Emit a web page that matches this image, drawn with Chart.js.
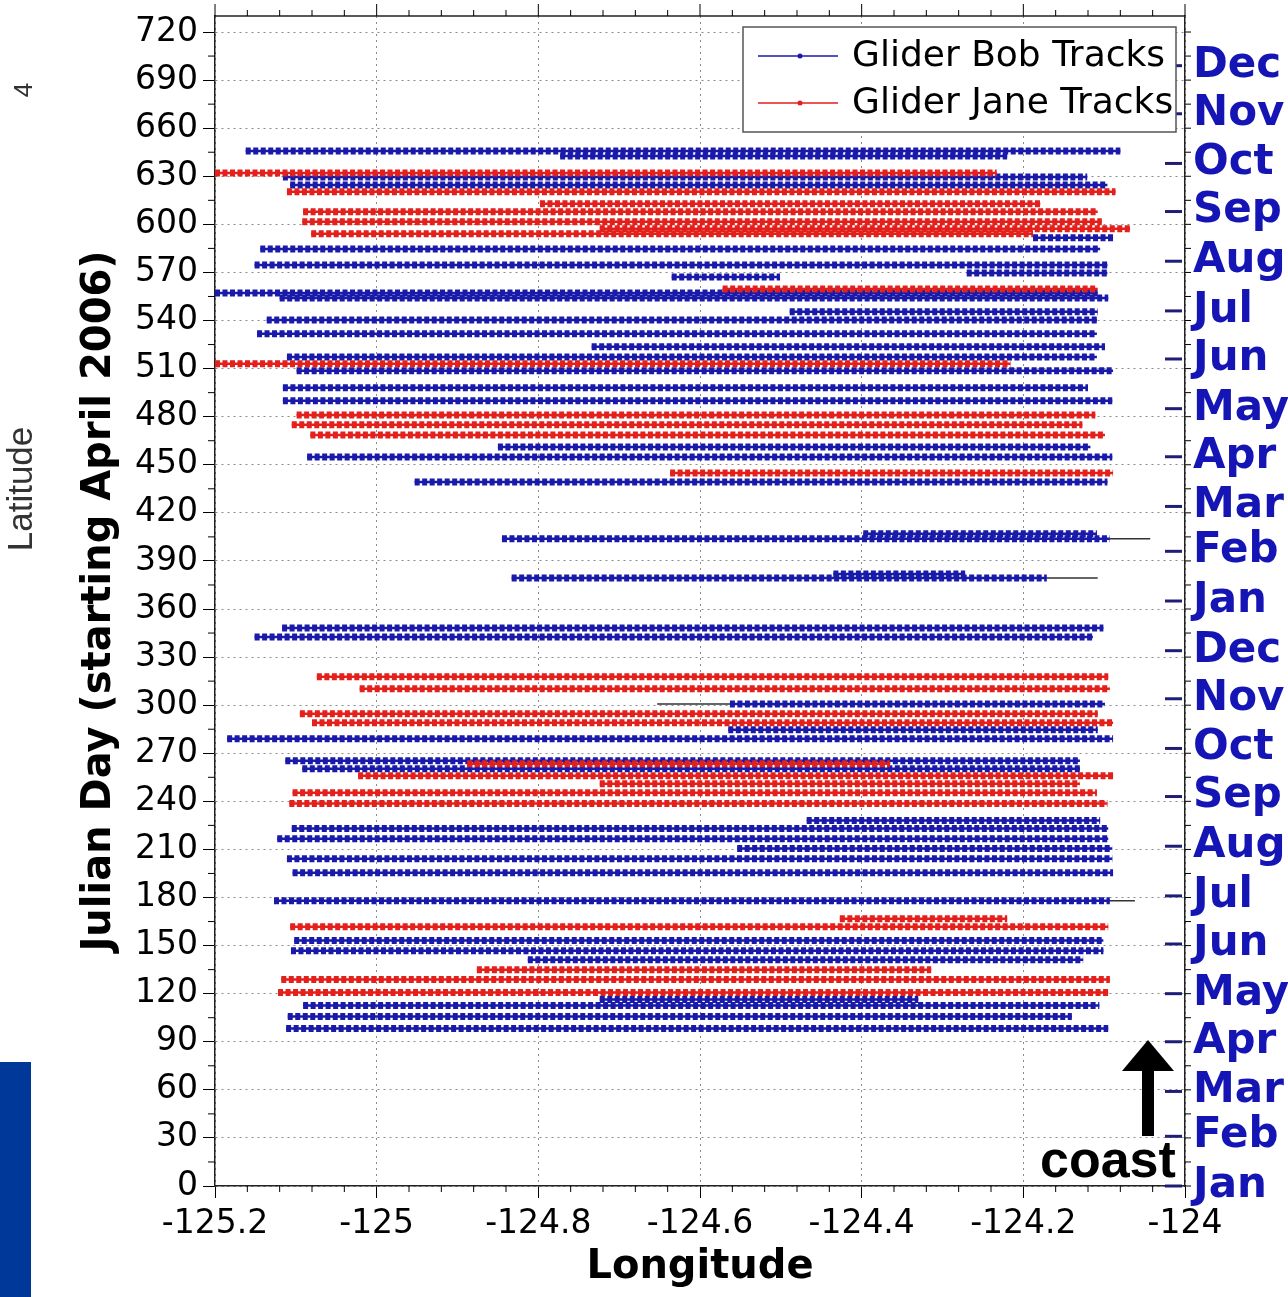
<!DOCTYPE html>
<html><head><meta charset="utf-8">
<script src="https://cdn.jsdelivr.net/npm/chart.js"></script>
<style>html,body{margin:0;padding:0;background:#fff;overflow:hidden}canvas{display:block}</style>
</head><body>
<canvas id="c" width="1288" height="1297"></canvas>
<script>
// ---- axis ticks / labels ----
const xTickValues = [-125.2, -125, -124.8, -124.6, -124.4, -124.2, -124];
const yTickValues = [0,30,60,90,120,150,180,210,240,270,300,330,360,390,420,450,480,510,540,570,600,630,660,690,720];
const monthDays  = [0,31,59,90,120,151,181,212,243,273,304,334,365,396,424,455,485,516,546,577,608,638,669,699];
const monthNames = ['Jan','Feb','Mar','Apr','May','Jun','Jul','Aug','Sep','Oct','Nov','Dec',
                    'Jan','Feb','Mar','Apr','May','Jun','Jul','Aug','Sep','Oct','Nov','Dec'];
const seriesNames = ['Glider Bob Tracks', 'Glider Jane Tracks'];

// ---- Glider Bob tracks (day, start lon, end lon) ----
const bobDay = [645.8,642.7,629.6,624.6,591.6,584.7,574.7,569.7,567.2,557.2,554.1,545.4,540.4,531.7,523.6,517.3,
  508.6,498.0,489.9,461.1,454.9,439.3,406.9,403.8,381.9,379.4,348.2,342.6,300.8,284.7,279.1,265.4,260.3,228.0,
  223.0,216.7,210.5,204.2,195.5,178.0,153.1,146.8,141.2,116.3,112.6,105.7,98.2];
const bobLonStart = [-125.162,-124.773,-125.116,-125.107,-124.188,-125.144,-125.151,-124.270,-124.635,-125.200,-125.120,-124.489,
  -125.136,-125.148,-124.734,-125.111,-125.099,-125.116,-125.116,-124.850,-125.086,-124.953,-124.398,-124.845,-124.435,-124.833,
  -125.117,-125.151,-124.563,-124.565,-125.185,-125.113,-125.092,-124.468,-125.105,-125.123,-124.554,-125.111,-125.104,-125.127,
  -125.102,-125.106,-124.813,-124.724,-125.091,-125.110,-125.112];
const bobLonEnd = [-124.080,-124.220,-124.121,-124.096,-124.089,-124.105,-124.096,-124.096,-124.501,-124.108,-124.095,-124.108,
  -124.109,-124.109,-124.099,-124.109,-124.089,-124.120,-124.090,-124.117,-124.090,-124.096,-124.109,-124.093,-124.272,-124.171,
  -124.101,-124.114,-124.099,-124.108,-124.089,-124.130,-124.130,-124.105,-124.095,-124.095,-124.090,-124.090,-124.089,-124.093,
  -124.101,-124.101,-124.126,-124.330,-124.106,-124.140,-124.095];

// thin connecting pieces of Bob tracks
const bobThinDay = [403.8, 379.4, 178.0, 300.8];
const bobThinLonStart = [-124.093, -124.171, -124.093, -124.653];
const bobThinLonEnd = [-124.043, -124.108, -124.062, -124.563];

// ---- Glider Jane tracks ----
const janeDay = [632.1,620.3,612.8,607.8,601.6,597.2,594.1,559.7,513.0,481.1,474.9,468.6,444.9,317.7,310.2,294.6,289.0,
  263.4,256.0,251.0,245.4,238.6,166.8,161.8,135.0,128.8,120.7];
const janeLonStart = [-125.200,-125.111,-124.798,-125.091,-125.092,-124.724,-125.081,-124.572,-125.200,-125.099,-125.105,-125.082,
  -124.637,-125.074,-125.021,-125.095,-125.080,-124.888,-125.023,-124.724,-125.104,-125.108,-124.427,-125.107,-124.876,-125.118,-125.122];
const janeLonEnd = [-124.233,-124.086,-124.179,-124.108,-124.103,-124.068,-124.188,-124.108,-124.216,-124.111,-124.127,-124.099,
  -124.089,-124.095,-124.093,-124.108,-124.089,-124.365,-124.089,-124.130,-124.109,-124.096,-124.220,-124.095,-124.314,-124.093,-124.095];

const BOB = '#1a1aaa', JANE = '#e3201b';

function segments(day, lon0, lon1) {
  const pts = [];
  for (let i = 0; i < day.length; i++) {
    pts.push({x: lon0[i], y: day[i]}, {x: lon1[i], y: day[i]}, {x: lon1[i], y: null});
  }
  return pts;
}

const deco = {
  id: 'deco',
  beforeDraw(chart) {
    const c = chart.ctx; c.save(); c.fillStyle = '#fff'; c.fillRect(0, 0, chart.width, chart.height); c.restore();
  },
  afterDraw(chart) {
    const ctx = chart.ctx, a = chart.chartArea, xs = chart.scales.x, ys = chart.scales.y;
    ctx.save();
    ctx.strokeStyle = '#222'; ctx.lineWidth = 1.5;
    ctx.beginPath(); ctx.moveTo(a.left, a.top); ctx.lineTo(a.right, a.top); ctx.stroke();
    ctx.lineWidth = 1;
    ctx.strokeStyle = '#000';
    for (let k = 0; k <= 30; k++) {
      const v = -125.2 + k * 0.04, px = xs.getPixelForValue(v);
      const len = (k % 5 === 0) ? 12 : 6;
      ctx.beginPath(); ctx.moveTo(px, a.top); ctx.lineTo(px, a.top - len); ctx.stroke();
      if (k % 5 !== 0) { ctx.beginPath(); ctx.moveTo(px, a.bottom); ctx.lineTo(px, a.bottom + 6); ctx.stroke(); }
    }
    for (let d = 15; d <= 720; d += 30) {
      const py = ys.getPixelForValue(d);
      ctx.beginPath(); ctx.moveTo(a.left, py); ctx.lineTo(a.left - 7, py); ctx.stroke();
    }
    for (let d = 0; d <= 720; d += 15) {
      const py = ys.getPixelForValue(d);
      ctx.beginPath(); ctx.moveTo(a.right, py); ctx.lineTo(a.right + 6, py); ctx.stroke();
    }
    ctx.strokeStyle = '#1e1e78'; ctx.lineWidth = 3;
    monthDays.forEach(d => {
      const py = ys.getPixelForValue(d);
      ctx.beginPath(); ctx.moveTo(a.right - 20, py); ctx.lineTo(a.right - 3, py); ctx.stroke();
    });
    // legend
    ctx.fillStyle = '#fff'; ctx.fillRect(743, 27, 433, 105);
    ctx.strokeStyle = '#555'; ctx.lineWidth = 1.5; ctx.strokeRect(743, 27, 433, 105);
    [[BOB, 56], [JANE, 103]].forEach(([col, yy], i) => {
      ctx.strokeStyle = col; ctx.lineWidth = 1.5;
      ctx.beginPath(); ctx.moveTo(758, yy); ctx.lineTo(838, yy); ctx.stroke();
      ctx.fillStyle = col; ctx.beginPath(); ctx.arc(800, yy, 2.5, 0, Math.PI * 2); ctx.fill();
      ctx.fillStyle = '#000'; ctx.font = '36px "DejaVu Sans"'; ctx.textBaseline = 'middle'; ctx.textAlign = 'left';
      ctx.fillText(seriesNames[i], 852, yy + 1);
    });
    // coast arrow
    ctx.fillStyle = '#000';
    ctx.fillRect(1142, 1068, 12, 68);
    ctx.beginPath(); ctx.moveTo(1148, 1040); ctx.lineTo(1174, 1071); ctx.lineTo(1122, 1071); ctx.closePath(); ctx.fill();
    ctx.font = 'bold 52px "Liberation Sans"'; ctx.textBaseline = 'alphabetic'; ctx.textAlign = 'left';
    ctx.fillText('coast', 1040, 1177);
    // slide remnants at the left edge
    ctx.fillStyle = '#00389a'; ctx.fillRect(0, 1062, 31, 235);
    ctx.fillStyle = '#333';
    ctx.save(); ctx.translate(32, 489); ctx.rotate(-Math.PI / 2);
    ctx.font = '35px "Liberation Sans"'; ctx.textAlign = 'center'; ctx.textBaseline = 'alphabetic';
    ctx.fillText('Latitude', 0, 0); ctx.restore();
    ctx.save(); ctx.translate(32, 90); ctx.rotate(-Math.PI / 2);
    ctx.font = '26px "Liberation Sans"'; ctx.textAlign = 'center'; ctx.fillText('4', 0, 0); ctx.restore();
    ctx.restore();
  }
};

function noPad(s) { s.paddingTop = 0; s.paddingBottom = 0; s.paddingLeft = 0; s.paddingRight = 0; }
const gridDash = [2, 4];
const markerDash = [5, 2.5];
new Chart(document.getElementById('c'), {
  type: 'line',
  data: {
    datasets: [
      { label: seriesNames[1], data: segments(janeDay, janeLonStart, janeLonEnd), borderColor: JANE,
        borderWidth: 7, borderDash: markerDash, pointRadius: 0, spanGaps: false, order: 0 },
      { label: seriesNames[1] + ' line', data: segments(janeDay, janeLonStart, janeLonEnd), borderColor: JANE,
        borderWidth: 2.5, pointRadius: 0, spanGaps: false, order: 1 },
      { label: seriesNames[0], data: segments(bobDay, bobLonStart, bobLonEnd), borderColor: BOB,
        borderWidth: 7, borderDash: markerDash, pointRadius: 0, spanGaps: false, order: 2 },
      { label: seriesNames[0] + ' line', data: segments(bobDay, bobLonStart, bobLonEnd), borderColor: BOB,
        borderWidth: 2.5, pointRadius: 0, spanGaps: false, order: 3 },
      { label: 'thin', data: segments(bobThinDay, bobThinLonStart, bobThinLonEnd), borderColor: '#333',
        borderWidth: 1.5, pointRadius: 0, spanGaps: false, order: 4 }
    ]
  },
  options: {
    responsive: false, animation: false, devicePixelRatio: 1,
    layout: { padding: { top: 16, left: 0, right: 0, bottom: 0 } },
    plugins: { legend: { display: false }, tooltip: { enabled: false } },
    scales: {
      x: {
        type: 'linear', position: 'bottom', min: -125.2, max: -124,
        afterBuildTicks: s => { s.ticks = xTickValues.map(v => ({ value: v })); },
        afterFit: s => { s.height = 111; noPad(s); },
        ticks: { autoSkip: false, maxRotation: 0, color: '#000', padding: 7,
                 font: { family: 'DejaVu Sans', size: 33 },
                 callback: v => (Math.round(v) === v ? String(v) : v.toFixed(1)) },
        grid: { color: '#8a8a8a', lineWidth: 1, tickLength: 12, tickColor: '#000', tickWidth: 1 },
        border: { display: true, color: '#222', width: 1.5, dash: gridDash },
        title: { display: true, text: 'Longitude', color: '#000',
                 font: { family: 'DejaVu Sans', size: 40, weight: 'bold' }, padding: { top: 0, bottom: 5 } }
      },
      y: {
        type: 'linear', position: 'left', min: 0, max: 730,
        afterBuildTicks: s => { s.ticks = yTickValues.map(v => ({ value: v })); },
        afterFit: s => { s.width = 215; noPad(s); },
        ticks: { autoSkip: false, color: '#000', padding: 5, font: { family: 'DejaVu Sans', size: 33 } },
        grid: { color: '#8a8a8a', lineWidth: 1, tickLength: 12, tickColor: '#000', tickWidth: 1 },
        border: { display: true, color: '#222', width: 1.5, dash: gridDash },
        title: { display: true, text: 'Julian Day (starting April 2006)', color: '#000',
                 font: { family: 'DejaVu Sans', size: 40, weight: 'bold' }, padding: { top: 76, bottom: 0 } }
      },
      y2: {
        type: 'linear', position: 'right', min: 0, max: 730,
        afterBuildTicks: s => { s.ticks = monthDays.map(v => ({ value: v })); },
        afterFit: s => { s.width = 103; noPad(s); },
        ticks: { autoSkip: false, color: '#1515b5', padding: 8,
                 font: { family: 'DejaVu Sans', size: 42, weight: 'bold' },
                 callback: (v, i) => monthNames[i] },
        grid: { drawOnChartArea: false, drawTicks: false },
        border: { display: true, color: '#222', width: 1.5 }
      }
    }
  },
  plugins: [deco]
});
</script>
</body></html>
